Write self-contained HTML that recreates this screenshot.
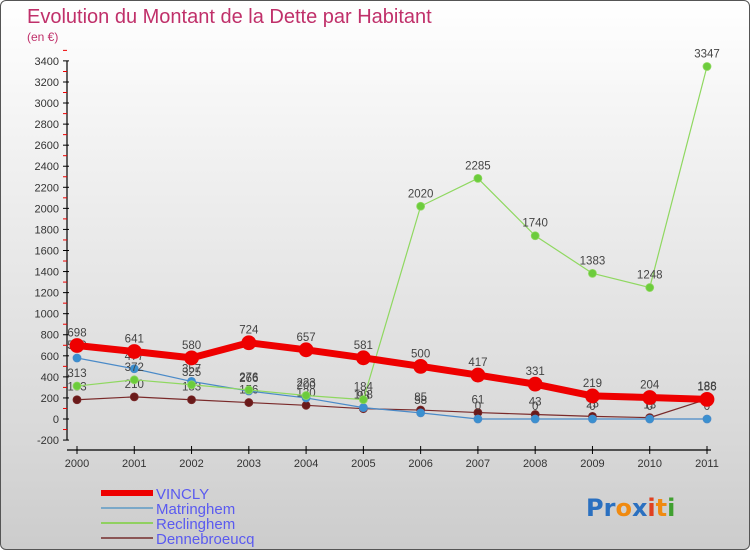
<!DOCTYPE html>
<html><head><meta charset="utf-8"><style>
html,body{margin:0;padding:0}
body{width:750px;height:550px;overflow:hidden;font-family:"Liberation Sans",sans-serif}
#wrap{position:absolute;left:0;top:0;width:748px;height:548px;border:1px solid #555;border-radius:6px;background:linear-gradient(#ffffff,#f0f0f0 30%,#d8d8d8 80%,#cccccc);overflow:hidden}
</style></head><body>
<div id="wrap">
<svg id="chart" width="750" height="550" style="position:absolute;left:0;top:0"></svg>
</div>
<script>
const years=["2000","2001","2002","2003","2004","2005","2006","2007","2008","2009","2010","2011"];
const vincly=[698,641,580,724,657,581,500,417,331,219,204,186];
const matringhem=[579,477,357,266,200,108,58,0,0,0,0,0];
const reclinghem=[313,372,325,276,223,184,2020,2285,1740,1383,1248,3347];
const dennebroeucq=[183,210,183,156,130,98,85,61,43,25,13,188];
const yTicks=[-200,0,200,400,600,800,1000,1200,1400,1600,1800,2000,2200,2400,2600,2800,3000,3200,3400];
const NS="http://www.w3.org/2000/svg";
const svg=document.getElementById('chart');
function X(i){return 76+i*(706-76)/(years.length-1);}
function Y(v){return 418-v*0.10532;}
function mk(t,a,p){const e=document.createElementNS(NS,t);for(const k in a)e.setAttribute(k,a[k]);(p||svg).appendChild(e);return e;}
function txt(x,y,s,a,p){const e=mk('text',Object.assign({x:x,y:y},a),p);e.textContent=s;return e;}
let t=txt(26,22,"Evolution du Montant de la Dette par Habitant",{fill:"#c0306a","font-size":"20"});

t=txt(26,40,"(en €)",{fill:"#c0306a","font-size":"12"});

let ax=mk('g',{});

mk('line',{x1:66,x2:66,y1:Y(3400),y2:Y(-200),stroke:"#000","stroke-width":1.2},ax);
yTicks.forEach(v=>{
 mk('line',{x1:62,x2:68,y1:Y(v),y2:Y(v),stroke:"#000"},ax);
 mk('line',{x1:62,x2:66,y1:Y(v+100),y2:Y(v+100),stroke:"#e00"},ax);
 const l=txt(58,Y(v)+4,String(v),{fill:"#333","font-size":"11","text-anchor":"end"},ax);
 
});
let xa=mk('g',{});

mk('line',{x1:66,x2:710,y1:449,y2:449,stroke:"#000","stroke-width":1.2},xa);
years.forEach((y,i)=>{
 mk('line',{x1:X(i),x2:X(i),y1:445,y2:453,stroke:"#000"},xa);
 const l=txt(X(i),466,y,{fill:"#333","font-size":"11","text-anchor":"middle"},xa);
 
});
function series(name,data,color,w,r,dot){
 const g=mk('g',{});
 
 mk('polyline',{points:data.map((v,i)=>X(i)+','+Y(v)).join(' '),fill:"none",stroke:color,"stroke-width":w,"stroke-linejoin":"round"},g);
 data.forEach((v,i)=>{
  const c=mk('circle',{cx:X(i),cy:Y(v),r:r,fill:dot,stroke:color,"stroke-width":0.8},g);
  
  const l=txt(X(i),Y(v)-9,String(v),{fill:"#444","font-size":"11.5","text-anchor":"middle"},g);
  
 });
}
series('dennebroeucq',dennebroeucq,"#7a2a2a",1.2,4,"#6a1a1a");
series('matringhem',matringhem,"#4a8ac8",1.2,4,"#3a90d0");
series('reclinghem',reclinghem,"#8fd860",1.2,4,"#6ccc3c");
series('vincly',vincly,"#ee0000",7,7,"#ee0000");
const leg=[["VINCLY","#ee0000",6],["Matringhem","#7aa8c8",2],["Reclinghem","#90d060",2],["Dennebroeucq","#8a5555",2]];
leg.forEach((d,i)=>{
 const g=mk('g',{});
 
 const y=492+i*15;
 mk('line',{x1:100,x2:152,y1:y,y2:y,stroke:d[1],"stroke-width":d[2]},g);
 txt(155,y+6,d[0],{fill:"#5a5af0","font-size":"15"},g);
});
const lg=mk('text',{x:585,y:515,"font-size":"24","font-weight":"bold","font-family":"DejaVu Sans, sans-serif"});

[["Pr","#2a70c0"],["o","#f08a10"],["x","#2a70c0"],["i","#e04020"],["t","#f08a10"],["i","#40a030"]].forEach(p=>{const s=mk('tspan',{fill:p[1]},lg);s.textContent=p[0];});
</script>
</body></html>
